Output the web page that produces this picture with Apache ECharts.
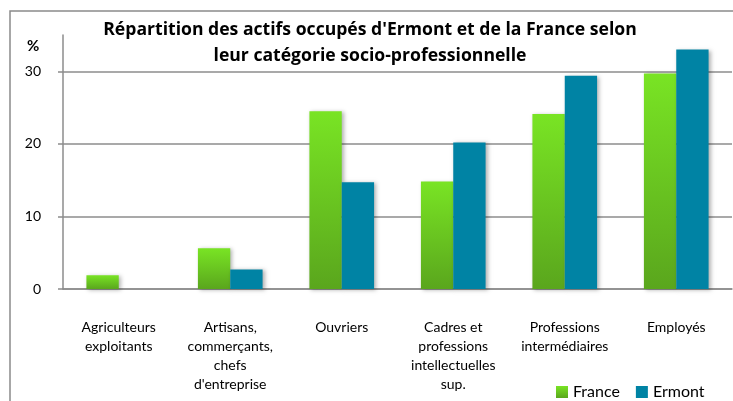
<!DOCTYPE html>
<html>
<head>
<meta charset="utf-8">
<script src="https://cdn.jsdelivr.net/npm/echarts@6/dist/echarts.min.js"></script>
<style>
  html, body { margin: 0; padding: 0; background: #fff; }
  #chart { width: 733px; height: 401px; }
</style>
</head>
<body>
<div id="chart"></div>
<script>
const categories = [
  "Agriculteurs\nexploitants",
  "Artisans,\ncommerçants,\nchefs\nd'entreprise",
  "Ouvriers",
  "Cadres et\nprofessions\nintellectuelles\nsup.",
  "Professions\nintermédiaires",
  "Employés"
];
const franceValues = [1.9, 5.6, 24.5, 14.8, 24.1, 29.7];
const ermontValues = [null, 2.7, 14.7, 20.2, 29.4, 33.0];
const seriesNames = ["France", "Ermont"];

const font = "Lato, 'Open Sans', sans-serif";
const titleFont = "'Open Sans', Lato, sans-serif";
const gridGray = "#8c8c8c";

const chart = echarts.init(document.getElementById("chart"), null, { renderer: "canvas" });

const barShadow = {
  shadowBlur: 4,
  shadowColor: "rgba(0,0,0,0.3)",
  shadowOffsetX: 2,
  shadowOffsetY: 1
};

chart.setOption({
  animation: false,
  textStyle: { fontFamily: font },
  title: {
    text: "Répartition des actifs occupés d'Ermont et de la France selon\nleur catégorie socio-professionnelle",
    left: 365,
    top: 12,
    textAlign: "center",
    textStyle: { fontSize: 17.6, fontWeight: "bold", color: "#000", lineHeight: 26, fontFamily: titleFont }
  },
  graphic: [
    {
      type: "rect",
      shape: { x: 10, y: 11, width: 800, height: 500 },
      style: { fill: "none", stroke: "#8a8a8a", lineWidth: 1.5 },
      silent: true
    },
    {
      type: "text",
      left: 27,
      top: 39,
      style: { text: "%", font: "bold 15px " + font, fill: "#000" }
    }
  ],
  legend: {
    data: seriesNames,
    left: 551,
    top: 379,
    itemWidth: 12,
    itemHeight: 12,
    itemGap: 16,
    icon: "rect",
    textStyle: { fontSize: 16, color: "#000", fontFamily: font }
  },
  grid: { left: 63, right: 1, top: 35, bottom: 112 },
  xAxis: {
    type: "category",
    data: categories,
    axisLine: { lineStyle: { color: gridGray, width: 1.5 } },
    axisTick: { length: 5, lineStyle: { color: gridGray, width: 1.5 } },
    axisLabel: { color: "#000", fontSize: 14, lineHeight: 19, margin: 29, interval: 0 }
  },
  yAxis: {
    type: "value",
    min: 0,
    max: 35,
    interval: 10,
    axisLine: { show: true, lineStyle: { color: gridGray, width: 1.5 } },
    axisTick: { show: true, length: 5, lineStyle: { color: gridGray, width: 1.5 } },
    axisLabel: { color: "#000", fontSize: 14, margin: 22, showMaxLabel: false },
    splitLine: { show: true, showMaxLine: false, lineStyle: { color: gridGray, width: 1.5 } }
  },
  series: [
    {
      name: seriesNames[0],
      type: "bar",
      data: franceValues,
      barGap: "0%",
      barCategoryGap: "42%",
      itemStyle: Object.assign({
        color: new echarts.graphic.LinearGradient(0, 0, 0, 1, [
          { offset: 0, color: "#79e424" },
          { offset: 1, color: "#5aa61d" }
        ])
      }, barShadow)
    },
    {
      name: seriesNames[1],
      type: "bar",
      data: ermontValues,
      itemStyle: Object.assign({ color: "#0083a4" }, barShadow)
    }
  ]
});
</script>
</body>
</html>
